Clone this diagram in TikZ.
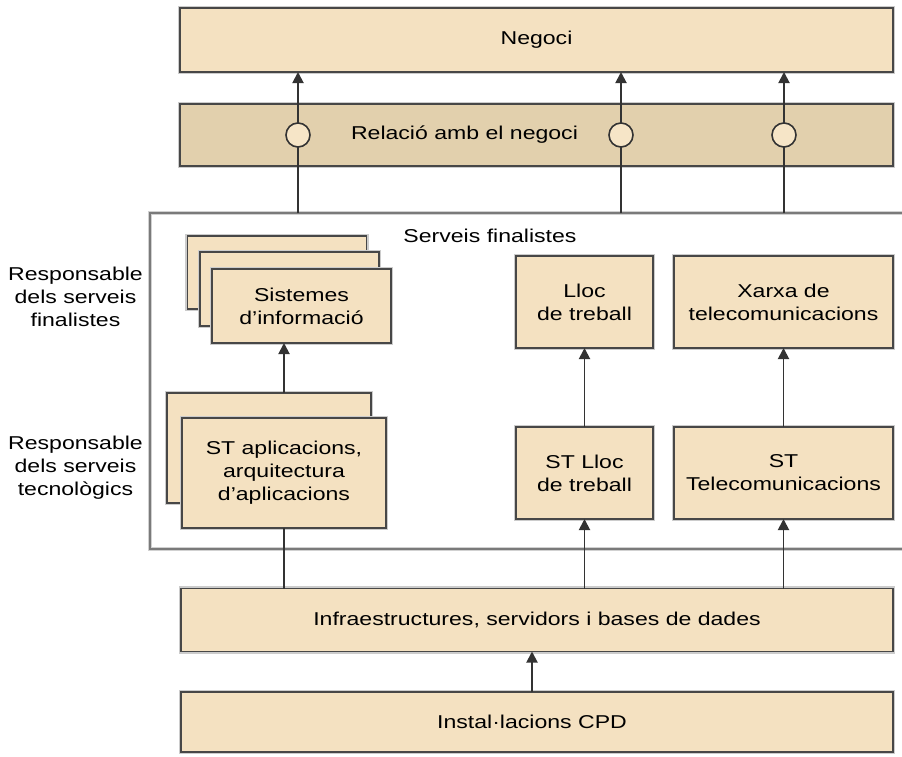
\documentclass[tikz,border=0pt]{standalone}
\usepackage{fontspec}
\setmainfont{Liberation Sans}[FakeStretch=1.24]
\usetikzlibrary{arrows.meta}
\definecolor{boxfill}{RGB}{244,225,193}
\definecolor{bandfill}{RGB}{226,208,173}
\definecolor{ringfill}{RGB}{246,229,199}
\begin{document}
\begin{tikzpicture}[x=1pt,y=-1pt,
  every node/.style={font=\fontsize{18.6}{23}\selectfont, align=center, inner sep=0pt, outer sep=0pt},
  tanbox/.style={rectangle, fill=boxfill, draw=black!72, line width=1.5pt,
    preaction={draw=black!20, line width=4.5pt}},
  bandbox/.style={tanbox, fill=bandfill},
  frame/.style={rectangle, draw=black!52, line width=2.5pt,
    preaction={draw=black!18, line width=4.5pt}},
  ring/.style={circle, minimum size=24pt, fill=ringfill, draw=black!80, line width=1.6pt},
  link/.style={draw=black!80, line width=1.9pt},
  arr/.style={link, -{Triangle[length=11pt, width=11pt]}},
]
\useasboundingbox (0,0) rectangle (902,756);

% top layers
\node[tanbox, minimum width=713pt, minimum height=64pt] (neg) at (536.5,40) {};
\node at (536.5,40) {Negoci};
\node[bandbox, minimum width=713pt, minimum height=62pt] (rel) at (536.5,135) {};
\node (reltext) at (464.5,135) {Relació amb el negoci};

% frame of the end-user services (open on the right)
\node[frame, minimum width=760pt, minimum height=336pt] (outer) at (530,381) {};
\node (sf) at (490,236) {Serveis finalistes};

% side captions
\node (resp1) at (75.5,297) {Responsable\\dels serveis\\finalistes};
\node (resp2) at (75.5,468) {Responsable\\dels serveis\\tecnològics};

% information systems stack
\node[tanbox, minimum width=179pt, minimum height=73pt] (sis3) at (277,272.5) {};
\node[tanbox, minimum width=179pt, minimum height=74pt] (sis2) at (289.5,289) {};
\node[tanbox, minimum width=179pt, minimum height=74pt] (sis) at (301.5,306) {Sistemes\\d’informació};

% application services stack
\node[tanbox, minimum width=204pt, minimum height=110pt] (stappback) at (269,448) {};
\node[tanbox, minimum width=204pt, minimum height=110pt] (stapp) at (284,473) {ST aplicacions,\\arquitectura\\d’aplicacions};

% workplace and network
\node[tanbox, minimum width=137pt, minimum height=92pt] (lloc) at (584.5,302) {Lloc\\de treball};
\node[tanbox, minimum width=219pt, minimum height=92pt] (xarxa) at (783.5,302) {Xarxa de\\telecomunicacions};
\node[tanbox, minimum width=137pt, minimum height=92pt] (stlloc) at (584.5,473) {ST Lloc\\de treball};
\node[tanbox, minimum width=219pt, minimum height=92pt] (sttel) at (783.5,473) {ST\\Telecomunicacions};

% base layers
\node[tanbox, minimum width=712pt, minimum height=63pt] (infra) at (537,620) {Infraestructures, servidors i bases de dades};
\node[tanbox, minimum width=712pt, minimum height=60pt] (cpd) at (537,722) {};
\node at (532,722) {Instal·lacions CPD};

% connectors
\draw[arr] (stapp |- stappback.north) -- (stapp |- sis.south);
\draw[link] (stapp.south) -- (stapp |- infra.north);
\draw[arr] (stlloc.north) -- (lloc.south);
\draw[arr] (sttel.north) -- (xarxa.south);
\draw[arr] (stlloc |- infra.north) -- (stlloc.south);
\draw[arr] (sttel |- infra.north) -- (sttel.south);
\draw[arr] ([xshift=-5pt]cpd.north) -- ([xshift=-5pt]infra.south);

% business relationship interfaces
\coordinate (p1) at (298,135);
\coordinate (p2) at (621,135);
\coordinate (p3) at (784,135);
\foreach \p in {p1,p2,p3}{
  \draw[arr] (\p |- outer.north) -- (\p |- neg.south);
}
\node[ring] (r1) at (p1) {};
\node[ring] (r2) at (p2) {};
\node[ring] (r3) at (p3) {};
\end{tikzpicture}
\end{document}
